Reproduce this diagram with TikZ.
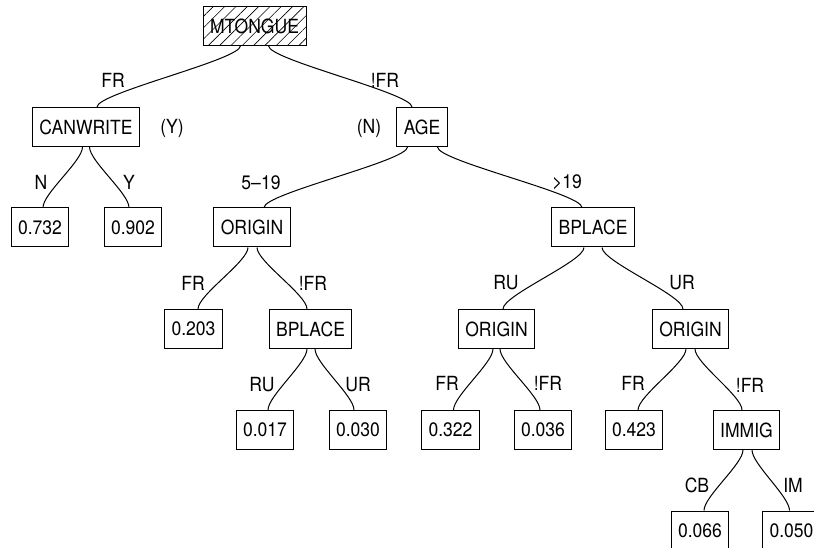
\documentclass[tikz,border=0pt]{standalone}
\usepackage{fontspec}
\setmainfont{TeX Gyre Heros}[FakeStretch=0.9]
\usetikzlibrary{patterns.meta}
\newcommand{\tEdge}[4]{\draw[tedge] ([xshift=#3pt]#1.south) .. controls +(0,14) and +(0,-14) .. ([xshift=#4pt]#2.north);}

\begin{document}
\begin{tikzpicture}[x=1pt,y=-1pt,
  font=\fontsize{19.5}{23}\selectfont,
  tbox/.style={draw, line width=1pt, minimum height=39pt, inner xsep=7pt, inner ysep=0pt},
  tlab/.style={inner sep=0pt},
  tedge/.style={line width=1pt}]
\useasboundingbox (0,0) rectangle (814,548);
\clip (0,0) rectangle (814,548);
% split nodes
\node[tbox, pattern={Lines[angle=45,distance=8pt,line width=0.6pt]}] (mtongue) at (254.5,26) {MTONGUE};
\node[tbox] (canwrite) at (86,127) {CANWRITE};
\node[tbox] (age) at (422,127) {AGE};
\node[tbox] (origA) at (252,227.5) {ORIGIN};
\node[tbox] (bplaceA) at (593,227.5) {BPLACE};
\node[tbox] (bplaceB) at (310.5,329) {BPLACE};
\node[tbox] (origB) at (496.5,329) {ORIGIN};
\node[tbox] (origC) at (690.5,329) {ORIGIN};
\node[tbox] (immig) at (746.5,430) {IMMIG};
% leaves
\node[tbox] (l732) at (40,227.5) {0.732};
\node[tbox] (l902) at (133,227.5) {0.902};
\node[tbox] (l203) at (193.5,329) {0.203};
\node[tbox] (l017) at (265,430) {0.017};
\node[tbox] (l030) at (358,430) {0.030};
\node[tbox] (l322) at (450.5,430) {0.322};
\node[tbox] (l036) at (543,430) {0.036};
\node[tbox] (l423) at (634,430) {0.423};
\node[tbox] (l066) at (700,530.5) {0.066};
\node[tbox] (l050) at (791.5,530.5) {0.050};
% branch labels
\node[tlab] (bFRa) at (113,80) {FR};
\node[tlab] (bNFRa) at (385,80) {!FR};
\node[tlab] (bY) at (172,128) {(Y)};
\node[tlab] (bN) at (369,128) {(N)};
\node[tlab] (bNa) at (41,182) {N};
\node[tlab] (bYa) at (129,182) {Y};
\node[tlab] (bAgeA) at (261,183) {5–19};
\node[tlab] (bAgeB) at (567,182) {>19};
\node[tlab] (bFRb) at (193,283) {FR};
\node[tlab] (bNFRb) at (313,283) {!FR};
\node[tlab] (bRUa) at (506,283) {RU};
\node[tlab] (bURa) at (682,283) {UR};
\node[tlab] (bRUb) at (262,385) {RU};
\node[tlab] (bURb) at (358,385) {UR};
\node[tlab] (bFRc) at (447,383) {FR};
\node[tlab] (bNFRc) at (548,383) {!FR};
\node[tlab] (bFRd) at (633,383) {FR};
\node[tlab] (bNFRd) at (750,385) {!FR};
\node[tlab] (bCB) at (697,485) {CB};
\node[tlab] (bIM) at (793,485) {IM};
% edges
\tEdge{mtongue}{canwrite}{-14}{11}
\tEdge{mtongue}{age}{14}{-10}
\tEdge{canwrite}{l732}{-3.5}{3}
\tEdge{canwrite}{l902}{3.5}{-4}
\tEdge{age}{origA}{-14.5}{12}
\tEdge{age}{bplaceA}{15.5}{-11}
\tEdge{origA}{l203}{-4}{4.5}
\tEdge{origA}{bplaceB}{5}{-3.5}
\tEdge{bplaceA}{origB}{-9}{6.5}
\tEdge{bplaceA}{origC}{9}{-7.5}
\tEdge{bplaceB}{l017}{-3.5}{3}
\tEdge{bplaceB}{l030}{4.5}{-4}
\tEdge{origB}{l322}{-3.5}{3}
\tEdge{origB}{l036}{3.5}{-3}
\tEdge{origC}{l423}{-4.5}{4}
\tEdge{origC}{immig}{4.5}{-4.5}
\tEdge{immig}{l066}{-3.5}{4}
\tEdge{immig}{l050}{5.5}{-2}
\end{tikzpicture}
\end{document}
